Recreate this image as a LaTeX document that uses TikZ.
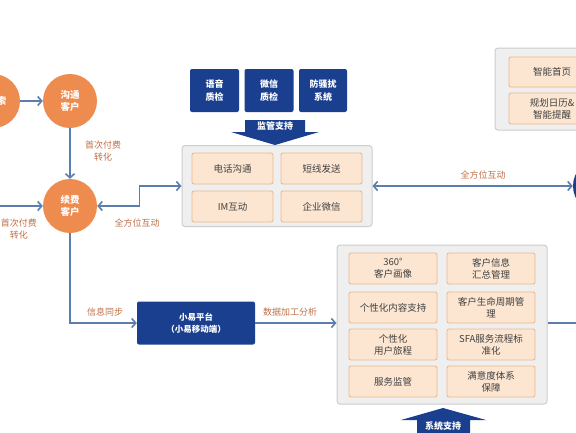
\documentclass[tikz,border=0pt]{standalone}
\usepackage{fontspec}
\setmainfont{Noto Sans CJK SC}
\usetikzlibrary{arrows.meta}
\definecolor{corange}{HTML}{EE8C4F}
\definecolor{cblue}{HTML}{1B3F8F}
\definecolor{carrow}{HTML}{5B7EAE}
\definecolor{clab}{HTML}{C07048}
\definecolor{cgray}{HTML}{EFEFEF}
\definecolor{cgrayb}{HTML}{CDCDCD}
\definecolor{cpeach}{HTML}{FCE6D1}
\definecolor{cpeachb}{HTML}{EDB98D}
\definecolor{ctext}{HTML}{404040}
\begin{document}
\begin{tikzpicture}[x=1pt,y=-1pt,
  circ/.style={circle, fill=corange, minimum size=54pt, inner sep=0pt, text=white,
    font=\fontsize{9.5}{12}\selectfont\bfseries, align=center},
  bluebox/.style={fill=cblue, rounded corners=2pt, text=white, inner sep=0pt,
    font=\fontsize{9}{13}\selectfont\bfseries, align=center},
  graybox/.style={fill=cgray, draw=cgrayb, line width=1pt, rounded corners=3pt, inner sep=0pt},
  peach/.style={fill=cpeach, draw=cpeachb, line width=0.9pt, rounded corners=2pt, inner sep=0pt,
    text=ctext, font=\fontsize{9.5}{12}\selectfont, align=center},
  lab/.style={text=clab, font=\fontsize{9}{11.5}\selectfont, align=center, inner sep=0pt},
  conn/.style={draw=carrow, line width=1.6pt, -{Straight Barb[length=4pt,width=9pt]}},
  biconn/.style={draw=carrow, line width=1.6pt, {Straight Barb[length=4pt,width=9pt]}-{Straight Barb[length=4pt,width=9pt]}},
  plain/.style={draw=carrow, line width=1.6pt},
  blockarrow/.style={fill=cblue},
  arrowtext/.style={text=white, font=\fontsize{9}{11}\selectfont\bfseries, inner sep=0pt}
]
\useasboundingbox (0,0) rectangle (576,432);
\fill[white] (0,0) rectangle (576,432);
\clip (0,0) rectangle (576,432);

% circles
\node[circ] (c1) at (-7,101) {\hspace*{8pt}线索};
\node[circ] (c2) at (70,101) {沟通\\客户};
\node[circ] (c3) at (70,206) {续费\\客户};
\node[circ, fill=cblue] (rc) at (600,186) {};
\coordinate (lin) at (0,206);
\coordinate (rout) at (580,323);

% top blue boxes
\node[bluebox, minimum width=49pt, minimum height=43pt] (b1) at (214.5,90.5) {语音\\质检};
\node[bluebox, minimum width=49pt, minimum height=43pt] (b2) at (269,90.5) {微信\\质检};
\node[bluebox, minimum width=48pt, minimum height=43pt] (b3) at (323,90.5) {防骚扰\\系统};

% supervision arrow
\fill[blockarrow] (245,120) -- (305,120) -- (305,132) -- (319,132) -- (275,145) -- (231,132) -- (245,132) -- cycle;
\node[arrowtext] (sup) at (275,126.5) {监管支持};

% gray box 1
\node[graybox, minimum width=190pt, minimum height=81pt] (g1) at (277,186) {};
\node[peach, minimum width=81pt, minimum height=31pt] (p1) at (232.5,168.5) {电话沟通};
\node[peach, minimum width=81pt, minimum height=31pt] (p2) at (321.5,168.5) {短线发送};
\node[peach, minimum width=81pt, minimum height=31pt] (p3) at (232.5,206.5) {IM互动};
\node[peach, minimum width=81pt, minimum height=31pt] (p4) at (321.5,206.5) {企业微信};

% top right box
\node[graybox, minimum width=110pt, minimum height=82pt] (g3) at (550,89) {};
\node[peach, minimum width=86pt, minimum height=30pt] (t1) at (552,72) {智能首页};
\node[peach, minimum width=86pt, minimum height=31pt] (t2) at (552,108.5) {规划日历\&\\智能提醒};

% platform box
\node[bluebox, minimum width=118pt, minimum height=43pt, font=\fontsize{8.5}{12}\selectfont\bfseries] (xy) at (196,323) {小易平台\\（小易移动端）};

% gray box 2
\node[graybox, minimum width=210pt, minimum height=159pt] (g2) at (442,324.5) {};
\node[peach, minimum width=88pt, minimum height=31pt] (q1) at (393,268.5) {360°\\客户画像};
\node[peach, minimum width=88pt, minimum height=31pt] (q2) at (393,307.5) {个性化内容支持};
\node[peach, minimum width=88pt, minimum height=31pt] (q3) at (393,344.5) {个性化\\用户旅程};
\node[peach, minimum width=88pt, minimum height=31pt] (q4) at (393,381.5) {服务监管};
\node[peach, minimum width=88pt, minimum height=31pt] (r1) at (491,268.5) {客户信息\\汇总管理};
\node[peach, minimum width=88pt, minimum height=31pt] (r2) at (491,307.5) {客户生命周期管\\理};
\node[peach, minimum width=88pt, minimum height=31pt] (r3) at (491,344.5) {SFA服务流程标\\准化};
\node[peach, minimum width=88pt, minimum height=31pt] (r4) at (491,381.5) {满意度体系\\保障};

% system support arrow
\fill[blockarrow] (443,408) -- (486,420) -- (470,420) -- (470,440) -- (417,440) -- (417,420) -- (401,420) -- cycle;
\node[arrowtext] (sys) at (443,426) {系统支持};

% connectors
\draw[conn] (c1.east) -- (c2.west);
\draw[conn] (c2.south) -- (c3.north);
\draw[conn] (lin) -- (c3.west);
\draw[biconn] (g1.west) -- ++(-42,0) |- (c3.east);
\draw[biconn] (g1.east) -- (rc.west);
\draw[conn] (c3.south) |- (xy.west);
\draw[conn] (xy.east) -- (xy.east -| g2.west);
\draw[plain] (rout -| g2.east) -- (rout);

% labels
\node[lab] (l1) at (103,151) {首次付费\\转化};
\node[lab] (l2) at (19,229) {首次付费\\转化};
\node[lab] (l3) at (137,223) {全方位互动};
\node[lab] (l4) at (483,175) {全方位互动};
\node[lab] (l5) at (105,312) {信息同步};
\node[lab] (l6) at (290,312) {数据加工分析};
\end{tikzpicture}
\end{document}
